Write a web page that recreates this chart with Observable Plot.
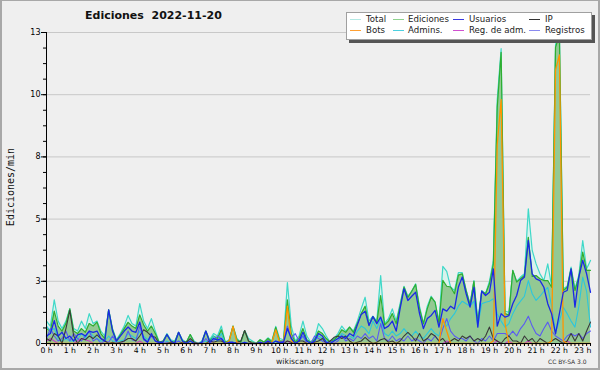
<!DOCTYPE html>
<html><head><meta charset="utf-8">
<script src="https://cdn.jsdelivr.net/npm/d3@7"></script>
<script src="https://cdn.jsdelivr.net/npm/@observablehq/plot@0.6"></script>
<style>
html,body{margin:0;padding:0;background:#efefef;}
#wrap{position:relative;width:600px;height:370px;overflow:hidden;background:#efefef;font-family:"DejaVu Sans",sans-serif;}
#wrap svg{position:absolute;left:0;top:0;}
#frame{position:absolute;left:0;top:0;width:600px;height:370px;box-sizing:border-box;border-style:solid;border-color:#a8a8a8;border-width:1px 2px 2px 2px;pointer-events:none;}
#title{position:absolute;left:85px;top:9px;font:bold 11px "DejaVu Sans";color:#111;white-space:pre;line-height:13px;}
#ylabel{position:absolute;left:10px;top:187px;transform:translate(-50%,-50%) rotate(-90deg);font:10px "DejaVu Sans Mono";white-space:nowrap;color:#111;}
#legendbox{position:absolute;left:346px;top:12px;width:246px;height:28px;box-sizing:border-box;background:#fff;border:1px solid #a0a0a0;box-shadow:3px 3px 0 #555;}
.item{position:absolute;font:8.6px "DejaVu Sans";color:#222;white-space:nowrap;line-height:10px;}
.sw{position:absolute;height:1px;width:11px;}
#foot{position:absolute;left:276px;top:357px;font:7.7px "DejaVu Sans";color:#222;line-height:10px;}
#cc{position:absolute;left:548px;top:358px;font:6px "DejaVu Sans";color:#333;line-height:8px;}
</style></head>
<body>
<div id="wrap">
  <div id="title"></div>
  <div id="ylabel"></div>
  <div id="legendbox"></div>
  <div id="foot"></div>
  <div id="cc"></div>
  <div id="frame"></div>
</div>
<script>
// 10-minute samples from 0:00 to 23:20 (edits per minute)
const total = [
0.9,0.7,1.75,0.9,0.6,0.9,1.4,0.6,0.5,0.9,
0.6,1.2,0.8,0.9,0.5,0.3,1.35,0.6,0.15,0.4,
0.7,1.13,0.8,0.7,1.6,0.9,0.6,1.0,0.5,0.05,
0.1,0.4,0.15,0.1,0.45,0.15,0.05,0.36,0.1,0.0,
0.1,0.5,0.15,0.4,0.3,0.7,0.05,0.15,0.7,0.2,
0.05,0.52,0.2,0.1,0.0,0.15,0.05,0.23,0.1,0.69,
0.2,0.15,2.45,0.7,0.1,0.3,0.9,0.3,0.05,0.2,
0.8,0.6,0.3,0.05,0.2,0.4,0.7,0.5,0.66,0.5,
0.9,1.4,1.86,0.9,1.1,0.9,2.73,0.8,1.0,1.39,
0.9,1.6,2.3,1.9,2.1,2.4,1.5,0.8,1.5,1.9,
1.66,0.9,3.1,2.9,2.27,2.13,2.85,2.85,2.13,1.6,
2.53,0.92,2.13,2.0,2.5,3.34,9.8,11.85,1.3,1.25,
2.94,2.5,2.67,2.8,5.41,3.74,3.2,2.8,2.53,3.2,
2.3,12.0,12.6,2.2,2.3,3.07,2.2,2.75,4.14,3.0,
3.34];
const ediciones = [
0.6,0.5,1.3,0.7,0.5,0.8,1.39,0.5,0.4,0.6,
0.45,0.8,0.7,0.86,0.4,0.2,1.35,0.55,0.1,0.35,
0.6,0.85,0.7,0.6,1.15,0.75,0.5,0.7,0.4,0.05,
0.1,0.36,0.1,0.05,0.45,0.1,0.05,0.36,0.05,0.0,
0.05,0.5,0.1,0.3,0.2,0.55,0.05,0.1,0.7,0.15,
0.05,0.52,0.1,0.05,0.0,0.15,0.05,0.2,0.05,0.65,
0.1,0.1,1.75,0.4,0.05,0.2,0.6,0.15,0.05,0.15,
0.5,0.4,0.2,0.05,0.15,0.3,0.55,0.45,0.66,0.45,
0.8,1.2,1.5,0.75,1.08,0.85,1.93,0.75,0.9,1.2,
0.8,1.5,2.27,1.85,2.1,2.37,1.4,0.79,1.4,1.86,
1.66,0.8,2.54,2.3,2.27,2.0,2.75,2.8,2.13,1.55,
2.5,0.8,2.1,2.0,2.4,3.2,9.5,11.7,1.2,1.15,
2.94,2.47,2.6,2.73,4.27,2.7,2.73,2.6,2.53,2.53,
2.26,11.9,12.4,2.13,2.26,3.0,2.13,2.67,3.67,2.94,
2.94];
const usuarios = [
0.3,0.4,0.92,0.3,0.45,0.2,0.3,0.1,0.35,0.4,
0.3,0.5,0.45,0.5,0.2,0.1,1.35,0.5,0.1,0.3,
0.5,0.66,0.5,0.45,0.86,0.2,0.05,0.4,0.1,0.05,
0.05,0.36,0.1,0.0,0.45,0.1,0.0,0.1,0.0,0.0,
0.05,0.5,0.05,0.2,0.15,0.2,0.0,0.05,0.05,0.0,
0.0,0.05,0.0,0.0,0.0,0.05,0.0,0.1,0.0,0.1,
0.05,0.05,0.6,0.2,0.0,0.1,0.45,0.1,0.0,0.1,
0.4,0.3,0.05,0.0,0.1,0.2,0.3,0.2,0.4,0.3,
0.75,1.17,1.3,0.72,1.08,0.8,1.06,0.6,0.7,0.9,
0.5,1.4,2.2,1.73,1.9,2.06,1.2,0.6,1.0,1.13,
1.33,0.66,1.39,1.3,1.5,1.39,2.27,2.67,2.0,1.46,
2.26,0.66,2.1,1.93,2.06,3.0,0.7,1.2,1.06,1.12,
1.6,1.93,2.53,2.67,4.14,2.8,2.6,2.53,2.26,1.6,
1.19,0.39,1.2,2.06,2.13,3.0,1.46,2.67,3.34,2.8,
2.06];
const ip = [
0.2,0.1,0.4,0.3,0.0,0.6,1.33,0.3,0.0,0.2,
0.15,0.3,0.2,0.35,0.2,0.1,0.0,0.05,0.0,0.05,
0.1,0.2,0.2,0.1,0.3,0.55,0.45,0.3,0.25,0.0,
0.0,0.0,0.05,0.0,0.0,0.05,0.05,0.2,0.05,0.0,
0.0,0.0,0.1,0.05,0.1,0.1,0.0,0.0,0.0,0.05,
0.1,0.52,0.1,0.0,0.0,0.05,0.0,0.05,0.0,0.0,
0.05,0.0,0.1,0.05,0.0,0.1,0.1,0.0,0.0,0.05,
0.1,0.2,0.0,0.1,0.25,0.3,0.2,0.3,0.1,0.0,
0.05,0.1,0.25,0.1,0.0,0.05,0.15,0.2,0.05,0.1,
0.0,0.1,0.3,0.45,0.3,0.1,0.4,0.1,0.2,0.4,
0.3,0.1,0.2,0.0,0.1,0.2,0.1,0.3,0.2,0.3,
0.1,0.2,0.1,0.3,0.66,0.2,0.1,0.0,0.2,0.3,
0.1,0.1,0.0,0.3,0.1,0.2,0.0,0.2,0.1,0.0,
0.1,0.2,0.1,0.0,0.1,0.4,0.1,0.4,0.1,0.5,
0.86];
const bots = [
0,0,0,0,0,0,0,0,0,0,
0,0,0,0,0,0,0,0,0,0,
0,0,0,0,0,0,0,0,0,0,
0,0,0,0,0,0,0,0,0,0,
0,0,0,0,0,0,0,0.1,0.69,0.05,
0,0,0,0,0,0,0,0,0.05,0.55,
0.05,0,1.5,0.1,0,0,0,0,0,0,
0,0,0,0,0,0,0,0,0,0,
0,0,0,0,0,0,0,0,0,0,
0,0,0,0,0,0,0,0,0,0,
0,0,1.0,0.5,0,0,0,0,0,0,
0,0,0,0,0,0.1,8.0,9.8,0.8,0,
0,0,0,0,0,0,0,0,0,0,
0.1,11.0,11.6,0.1,0,0,0,0,0,0,
0];
const admins = [
0.7,0.5,0.6,0.2,0.1,0.2,0.1,0.1,0.15,0.4,
0.2,0.5,0.3,0.2,0.1,0.1,0.3,0.1,0.05,0.1,
0.15,0.4,0.3,0.2,0.5,0.3,0.15,0.3,0.1,0.05,
0.0,0.1,0.0,0.0,0.1,0.0,0.0,0.1,0.0,0.0,
0.0,0.1,0.0,0.3,0.1,0.4,0.0,0.0,0.05,0.0,
0.0,0.05,0.0,0.0,0.0,0.0,0.0,0.05,0.0,0.1,
0.0,0.0,0.6,0.2,0.0,0.1,0.3,0.1,0.0,0.1,
0.3,0.2,0.1,0.0,0.1,0.2,0.4,0.3,0.3,0.2,
0.5,0.7,0.6,0.4,0.9,0.6,1.0,0.4,0.3,0.5,
0.3,0.4,0.6,0.4,0.3,0.5,0.3,0.2,0.4,0.6,
0.4,0.3,0.9,0.7,1.0,1.2,1.5,1.7,1.6,1.5,
1.7,0.7,1.6,1.66,1.7,1.8,1.2,0.9,0.66,0.8,
1.2,1.5,1.7,1.9,2.53,2.0,1.73,1.9,2.1,2.26,
1.5,0.45,0.9,1.46,1.2,0.9,0.66,1.5,2.67,2.1,
0.66];
const regAdm = [
0.1,0.2,0.1,0,0,0,0,0,0.1,0.2,
0.15,0.1,0,0,0,0,0,0,0,0,
0,0,0,0,0.1,0,0,0,0,0,
0,0,0,0,0,0,0,0,0,0,
0,0,0,0,0,0,0,0,0,0,
0,0,0,0,0,0,0,0,0,0,
0,0,0.1,0,0,0,0,0,0,0,
0,0,0,0,0,0,0,0,0,0,
0,0,0,0,0,0,0,0,0,0,
0,0,0,0,0,0,0,0,0,0,
0,0,0,0.1,0,0,0,0,0,0,
0,0,0,0,0,0,0.1,0,0,0.1,
0,0,0,0,0.1,0,0,0,0,0,
0,0,0,0,0.1,0,0,0,0,0,
0];
const registros = [
0.2,0.6,0.3,0.1,0.2,0.5,0.1,0.4,0.2,0.1,
0.3,0.5,0.1,0.2,0.0,0.1,0.05,0.3,0.05,0.0,
0.1,0.5,0.15,0.1,0.7,0.15,0.05,0.3,0.1,0.0,
0.0,0.05,0.0,0.0,0.1,0.0,0.0,0.0,0.0,0.0,
0.0,0.2,0.0,0.1,0.3,0.2,0.0,0.0,0.0,0.0,
0.0,0.0,0.0,0.0,0.0,0.0,0.0,0.1,0.0,0.0,
0.0,0.1,0.7,0.2,0.4,0.1,0.3,0.0,0.0,0.3,
0.2,0.1,0.0,0.1,0.0,0.1,0.3,0.1,0.2,0.1,
0.3,0.2,0.4,0.2,0.3,0.1,0.8,0.2,0.1,0.3,
0.1,0.2,0.1,0.3,0.1,0.2,0.1,0.0,0.2,0.1,
0.3,0.1,0.6,1.0,0.5,0.3,0.2,0.2,0.1,0.3,
0.1,0.0,0.2,0.1,0.3,0.1,0.4,0.4,0.4,0.3,
0.5,0.3,0.6,0.8,1.1,0.7,0.4,0.3,0.6,0.86,
0.5,0.3,0.2,0.1,0.3,0.4,0.3,0.4,0.2,0.4,
0.5];

const seriesNames = ["Total","Ediciones","Usuarios","IP","Bots","Admins.","Reg. de adm.","Registros"];
const legendColors = ["#b4e9e4","#8fd28f","#3a3ae0","#333333","#ffa033","#4cd0e0","#d050d0","#8a8af0"];
const yMajor = [0, 2.5, 5, 7.5, 10, 12.5];
const yMinor = d3.range(0, 12.5001, 0.625);
const hours = d3.range(0, 24);
const stepMinutes = 10;
const titleText = "Ediciones  2022-11-20";
const yLabelText = "Ediciones/min";
const footText = "wikiscan.org";
const licenseText = "CC BY-SA 3.0";

const rows = total.map((v, i) => ({
  m: i * stepMinutes, total: v, ediciones: ediciones[i], usuarios: usuarios[i], ip: ip[i],
  bots: bots[i], admins: admins[i], regAdm: regAdm[i], registros: registros[i]
}));
const xTicks = d3.range(0, 1401, stepMinutes);
const hourSet = new Set(hours.map(h => h * 60));

const line = (key, stroke, w) => Plot.lineY(rows, {x: "m", y: key, stroke, strokeWidth: w, curve: "linear"});

const chart = Plot.plot({
  width: 600, height: 370,
  marginLeft: 46, marginRight: 10, marginTop: 32, marginBottom: 27,
  style: {background: "transparent", fontFamily: "DejaVu Sans", fontSize: "7.7px", color: "#000", overflow: "visible"},
  x: {domain: [0, 1400], axis: null, label: null},
  y: {domain: [0, 12.5], axis: null, label: null},
  marks: [
    Plot.gridY(yMajor.filter(d => d > 0), {stroke: "#c8c8c8", strokeOpacity: 1}),
    Plot.areaY(rows, {x: "m", y: "total", fill: "#d9f2ec", curve: "linear"}),
    Plot.areaY(rows, {x: "m", y: "ediciones", fill: "#93c993", curve: "linear"}),
    line("total", "#3fd8c8", 1.2),
    line("ediciones", "#2fae2f", 1.2),
    line("admins", "#2cc6dc", 1.1),
    line("registros", "#5a5af2", 1.1),
    line("regAdm", "#c840c8", 1.1),
    line("ip", "#3a3a3a", 1.1),
    line("bots", "#ff9500", 1.3),
    line("usuarios", "#1a28e6", 1.3),
    Plot.ruleY([0], {stroke: "#000"}),
    Plot.ruleX([0], {stroke: "#000"}),
    Plot.axisY({ticks: yMajor, label: null, tickSize: 5, tickPadding: 1, tickFormat: d => String(Math.round(d)), fontSize: 8, stroke: "#000"}),
    Plot.axisY({ticks: yMinor, label: null, tickSize: 3, tickFormat: () => "", stroke: "#000"}),
    Plot.axisX({ticks: xTicks, label: null, tickSize: 3, tickPadding: 1, tickFormat: d => hourSet.has(d) ? `${d / 60} h` : "", fontSize: 7.7, stroke: "#000"})
  ]
});
const wrap = document.getElementById("wrap");
wrap.insertBefore(chart, wrap.firstChild);

document.getElementById("title").textContent = titleText;
document.getElementById("ylabel").textContent = yLabelText;
document.getElementById("foot").textContent = footText;
document.getElementById("cc").textContent = licenseText;

// legend: 4 columns x 2 rows
const colSw = [350, 393, 453, 529];
const colTx = [366, 408, 469, 545];
const rowY = [18.5, 29.5];
seriesNames.forEach((name, k) => {
  const r = Math.floor(k / 4), c = k % 4;
  const sw = document.createElement("div");
  sw.className = "sw";
  sw.style.left = colSw[c] + "px";
  sw.style.top = (rowY[r]) + "px";
  sw.style.background = legendColors[k];
  const tx = document.createElement("div");
  tx.className = "item";
  tx.style.left = colTx[c] + "px";
  tx.style.top = (rowY[r] - 5) + "px";
  tx.textContent = name;
  wrap.appendChild(sw);
  wrap.appendChild(tx);
});
</script>
</body></html>
